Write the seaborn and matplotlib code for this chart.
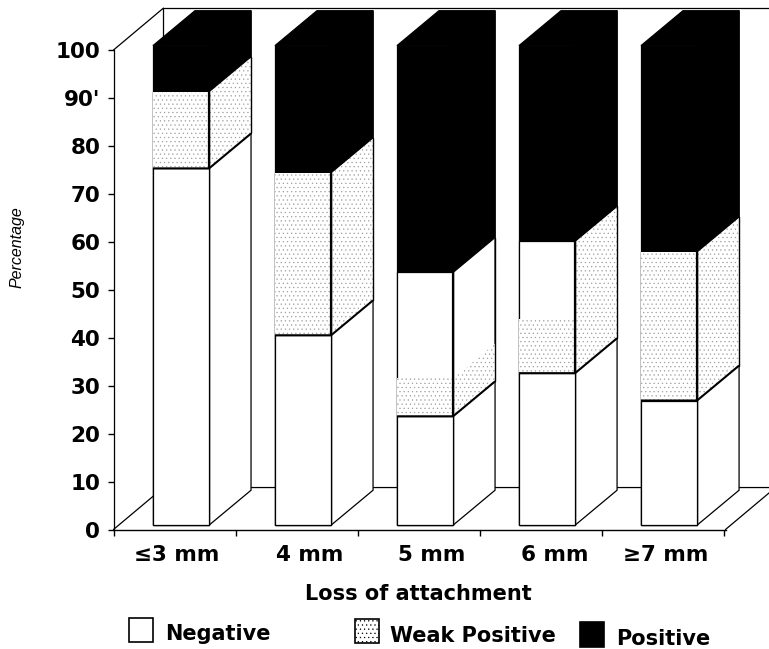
import numpy as np
import seaborn as sns
import matplotlib.pyplot as plt
from matplotlib.patches import Rectangle

# values (cumulative percentage)
categories = ['≤3 mm', '4 mm', '5 mm', '6 mm', '≥7 mm']
negative = [74.4, 39.6, 22.7, 31.7, 26]
negative_weak = [90.4, 73.5, 52.7, 59.2, 57]
total = [100, 100, 100, 100, 100]
# the scan only shows dots up to here
stipple_front = [90.4, 73.5, 30.6, 43, 57]
stipple_side = [90.4, 73.5, 30.6, 59.2, 57]
y_ticks = [0, 10, 20, 30, 40, 50, 60, 70, 80, 90, 100]
y_labels = ['0', '10', '20', '30', '40', '50', '60', '70', '80', "90'", '100']

W, H = 769, 649
sns.set_theme(style="white")
plt.rcParams['font.family'] = ['DejaVu Sans']
plt.rcParams['hatch.linewidth'] = 0.4

fig = plt.figure(figsize=(W / 100, H / 100), dpi=100)
# front plane of the box, in pixels of the reference
ax = fig.add_axes([113.5 / W, 1 - 529.5 / H, 612 / W, 479.5 / H])

dots = '....'
dot_color = '#a0a0a0'
stipple = dict(hatch=dots, edgecolor=dot_color, linewidth=0, clip_on=False, saturation=1, width=0.46)
plain = dict(edgecolor='black', linewidth=0.9, clip_on=False, saturation=1, width=0.46)

# bars are stacked by drawing the tallest first
sns.barplot(x=categories, y=total, color='black', ax=ax, zorder=3, **plain)
sns.barplot(x=categories, y=negative_weak, color='white', ax=ax, zorder=3, **plain)
sns.barplot(x=categories, y=stipple_front, color='white', ax=ax, zorder=3, **stipple)
sns.barplot(x=categories, y=negative, color='white', ax=ax, zorder=3, **plain)

ax.set_xlim(-0.553, 4.463)
ax.set_ylim(-0.9, 99.1)

# depth of the fake 3d, data units
bar_dx, bar_dy = 42 / 122, 35 / 4.8
box_dx, box_dy = 50 / 122, 42 / 4.8
half = 0.23


def side(i, low, high, **kw):
    x = i + half
    ax.fill([x, x + bar_dx, x + bar_dx, x], [low, low + bar_dy, high + bar_dy, high],
            clip_on=False, zorder=2, **kw)


for i in range(len(categories)):
    side(i, 0, total[i], facecolor='white', edgecolor='black', linewidth=0.9)
    side(i, negative[i], stipple_side[i], facecolor='white', edgecolor=dot_color,
         hatch=dots, linewidth=0)
    side(i, negative_weak[i], total[i], facecolor='black', edgecolor='black', linewidth=0.9)
    # top of the bar
    ax.fill([i - half, i + half, i + half + bar_dx, i - half + bar_dx],
            [total[i], total[i], total[i] + bar_dy, total[i] + bar_dy],
            facecolor='black', edgecolor='black', linewidth=0.9, clip_on=False, zorder=2)
    # heavy line on top of the negative part
    ax.plot([i - half, i + half, i + half + bar_dx], [negative[i], negative[i], negative[i] + bar_dy],
            color='black', lw=1.5, clip_on=False, zorder=4, solid_capstyle='butt')
    # redraw the edges the hatch covered
    ax.plot([i + half, i + half], [negative[i], negative_weak[i]], color='black', lw=1.6, clip_on=False, zorder=4)
    ax.plot([i + half + bar_dx] * 2, [negative[i] + bar_dy, negative_weak[i] + bar_dy],
            color='black', lw=1.0, clip_on=False, zorder=4)

# box walls and floor
x0, x1 = ax.get_xlim()
y0, y1 = ax.get_ylim()
wall = dict(color='black', lw=0.9, clip_on=False, zorder=1)
ax.plot([x0, x0 + box_dx, x0 + box_dx], [y1, y1 + box_dy, y0 + box_dy], **wall)
ax.plot([x0 + box_dx, x1 + box_dx], [y1 + box_dy, y1 + box_dy], **wall)
ax.plot([x0, x0 + box_dx, x1 + box_dx, x1], [y0, y0 + box_dy, y0 + box_dy, y0], **wall)

sns.despine(ax=ax)
ax.spines['left'].set_linewidth(0.9)
ax.spines['bottom'].set_linewidth(1.0)
ax.spines['left'].set_color('black')
ax.spines['bottom'].set_color('black')

ax.set_yticks(np.array(y_ticks) - 0.9, y_labels, fontsize=15.5, fontweight='bold', color='black')
ax.tick_params(axis='y', left=True, length=4.5, width=1, pad=5, color='black')

label_shift = np.array([-4.5, 6.5, 6.5, 7.5, -3.5]) / 122
ax.set_xticks(np.arange(5) + label_shift, categories, fontsize=15.5, fontweight='bold', color='black')
ax.set_xticks(np.arange(6) + x0, minor=True)
ax.tick_params(axis='x', which='major', bottom=False, length=0, pad=11.5)
ax.tick_params(axis='x', which='minor', bottom=True, length=4, width=1, color='black')

fig.text(418 / W, 1 - 594 / H, 'Loss of attachment', ha='center', va='center',
         fontsize=15, fontweight='bold', color='black')
fig.text(17 / W, 1 - 247 / H, 'Percentage', rotation=90, ha='center', va='center',
         fontsize=11.5, style='italic', color='black',
         family=['Liberation Sans Narrow', 'Liberation Sans'])


def key(x, y, w, h, label, tx, ty, **kw):
    fig.add_artist(Rectangle((x / W, 1 - (y + h) / H), w / W, h / H, transform=fig.transFigure, **kw))
    fig.text(tx / W, 1 - ty / H, label, ha='left', va='center', fontsize=15, fontweight='bold', color='black')


key(128.5, 617.5, 24.5, 24.5, 'Negative', 165, 634, facecolor='white', edgecolor='black', linewidth=1.2)
key(354.5, 618.5, 24.5, 24.5, 'Weak Positive', 390, 636, facecolor='white', edgecolor='black', linewidth=1.2, hatch=dots)
key(579.5, 621.5, 24.5, 25, 'Positive', 616, 639, facecolor='black', edgecolor='black', linewidth=1.2)

fig.savefig('out.png', dpi=100)
